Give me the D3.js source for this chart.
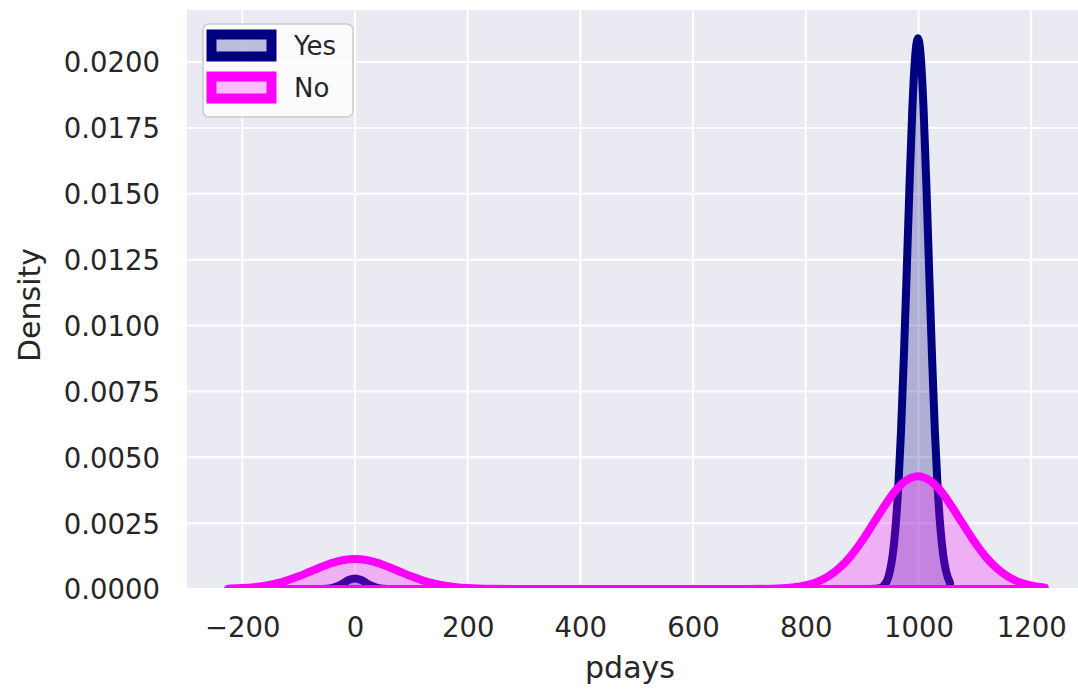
<!DOCTYPE html>
<html>
<head>
<meta charset="utf-8">
<script src="https://cdn.jsdelivr.net/npm/d3@7"></script>
<style>
  body { margin: 0; background: #fff; }
  text { font-family: "DejaVu Sans", sans-serif; fill: #262626; }
</style>
</head>
<body>
<svg id="chart" width="1078" height="691"></svg>
<script>
// KDE curves (pdays vs density)
var yesX = [-57, -45, -38, -30, -20, -10, 0, 10, 20, 30, 38, 45, 57, 100, 900, 929,
  942, 949, 954, 959, 964, 969, 974, 979, 984, 989, 994, 999,
  1004, 1009, 1014, 1019, 1024, 1029, 1034, 1039, 1044, 1049, 1056];
var yesDensity = [0.000004, 0.000024, 0.000054, 0.000115, 0.00023, 0.000348, 0.0004, 0.000348, 0.00023, 0.000115, 0.000054, 0.000024, 0.000004, 0, 0, 0.00002,
  0.00023, 0.00066, 0.00126, 0.00228, 0.00383, 0.0060, 0.0088, 0.0120, 0.0153, 0.0182, 0.0202, 0.0209,
  0.0202, 0.0182, 0.0153, 0.0120, 0.0088, 0.0060, 0.00383, 0.00228, 0.00126, 0.00066, 0.00023];

var noX = [-225, -220, -200, -180, -160, -140, -120, -100, -80, -60, -40, -20, 0,
  20, 40, 60, 80, 100, 120, 140, 160, 180, 200, 220, 240, 300, 500, 700,
  759, 774, 779, 799, 819, 839, 859, 879, 899, 919, 939, 959, 979, 999,
  1019, 1039, 1059, 1079, 1099, 1119, 1139, 1159, 1179, 1199, 1219, 1224];
var noDensity = [0.000014, 0.000017, 0.000036, 0.000069, 0.000124, 0.000209, 0.000328, 0.00048, 0.000656, 0.000834, 0.000993, 0.0011, 0.00114,
  0.0011, 0.000993, 0.000834, 0.000656, 0.00048, 0.000328, 0.000209, 0.000124, 0.000069, 0.000036, 0.000017, 0.000008, 0, 0, 0,
  0.000029, 0.0000535, 0.000065, 0.000134, 0.000259, 0.000467, 0.000785, 0.00123, 0.0018, 0.00246, 0.00313, 0.00373, 0.00413, 0.00428,
  0.00413, 0.00373, 0.00313, 0.00246, 0.0018, 0.00123, 0.000785, 0.000467, 0.000259, 0.000134, 0.000065, 0.0000535];

var seriesNames = ["Yes", "No"];
var seriesColors = ["#000080", "#ff00ff"];

var xTicks = [-200, 0, 200, 400, 600, 800, 1000, 1200];
var yTicks = [0, 0.0025, 0.005, 0.0075, 0.01, 0.0125, 0.015, 0.0175, 0.02];

var plotLeft = 187, plotRight = 1078, plotTop = 10, plotBottom = 588;

var svg = d3.select("#chart");

var x = d3.scaleLinear().domain([-298, 1283]).range([plotLeft, plotRight]);
var y = d3.scaleLinear().domain([0, 0.02]).range([589, 62]);

svg.append("rect")
  .attr("x", plotLeft).attr("y", plotTop)
  .attr("width", plotRight - plotLeft).attr("height", plotBottom - plotTop)
  .attr("fill", "#eaeaf2");

svg.append("clipPath").attr("id", "plotclip")
  .append("rect")
  .attr("x", plotLeft).attr("y", plotTop)
  .attr("width", plotRight - plotLeft).attr("height", plotBottom - plotTop);

// grid
svg.append("g").selectAll("line")
  .data(xTicks)
  .enter().append("line")
  .attr("x1", function(d) { return x(d); })
  .attr("x2", function(d) { return x(d); })
  .attr("y1", plotTop).attr("y2", plotBottom)
  .attr("stroke", "#fff").attr("stroke-width", 2);

svg.append("g").selectAll("line")
  .data(yTicks)
  .enter().append("line")
  .attr("y1", function(d) { return y(d); })
  .attr("y2", function(d) { return y(d); })
  .attr("x1", plotLeft).attr("x2", plotRight)
  .attr("stroke", "#fff").attr("stroke-width", 2);

// curves
var area = d3.area()
  .x(function(d) { return x(d[0]); })
  .y0(y(0))
  .y1(function(d) { return y(d[1]); })
  .curve(d3.curveMonotoneX);

var series = [
  d3.zip(yesX, yesDensity),
  d3.zip(noX, noDensity)
];

var plot = svg.append("g").attr("clip-path", "url(#plotclip)");

plot.selectAll("path")
  .data(series)
  .enter().append("path")
  .attr("d", area)
  .attr("fill", function(d, i) { return seriesColors[i]; })
  .attr("fill-opacity", 0.25)
  .attr("stroke", function(d, i) { return seriesColors[i]; })
  .attr("stroke-width", 8)
  .attr("stroke-linejoin", "round");

// axes (tick labels only, seaborn darkgrid style)
var xAxis = d3.axisBottom(x).tickValues(xTicks).tickFormat(d3.format("d")).tickSize(0).tickPadding(0);
var gx = svg.append("g")
  .attr("transform", "translate(0," + plotBottom + ")")
  .call(xAxis);
gx.select(".domain").remove();
gx.selectAll("text")
  .attr("y", 0).attr("dy", "49px")
  .style("font-size", "27.5px").attr("fill", "#262626");

var yAxis = d3.axisLeft(y).tickValues(yTicks).tickFormat(d3.format(".4f")).tickSize(0).tickPadding(0);
var gy = svg.append("g")
  .attr("transform", "translate(" + plotLeft + ",0)")
  .call(yAxis);
gy.select(".domain").remove();
gy.selectAll("text")
  .attr("x", -27).attr("dy", "0.36em")
  .style("font-size", "27.5px").attr("fill", "#262626");

svg.append("text")
  .attr("x", 630).attr("y", 678)
  .attr("text-anchor", "middle")
  .style("font-size", "30px")
  .text("pdays");

svg.append("text")
  .attr("transform", "translate(40,305) rotate(-90)")
  .attr("text-anchor", "middle")
  .style("font-size", "30px")
  .text("Density");

// legend
var legend = svg.append("g");
legend.append("rect")
  .attr("x", 203).attr("y", 24)
  .attr("width", 150).attr("height", 93)
  .attr("rx", 6)
  .attr("fill", "#ffffff").attr("fill-opacity", 0.8)
  .attr("stroke", "#cccccc").attr("stroke-width", 1.5);

var items = legend.selectAll("g.item")
  .data(seriesNames)
  .enter().append("g")
  .attr("class", "item")
  .attr("transform", function(d, i) { return "translate(0," + (i * 42) + ")"; });

items.append("rect")
  .attr("x", 211.5).attr("y", 34.5)
  .attr("width", 60).attr("height", 22)
  .attr("fill", function(d, i) { return seriesColors[i]; })
  .attr("fill-opacity", 0.25)
  .attr("stroke", function(d, i) { return seriesColors[i]; })
  .attr("stroke-width", 10);

items.append("text")
  .attr("x", 294).attr("y", 55)
  .style("font-size", "26px")
  .text(function(d) { return d; });
</script>
</body>
</html>
